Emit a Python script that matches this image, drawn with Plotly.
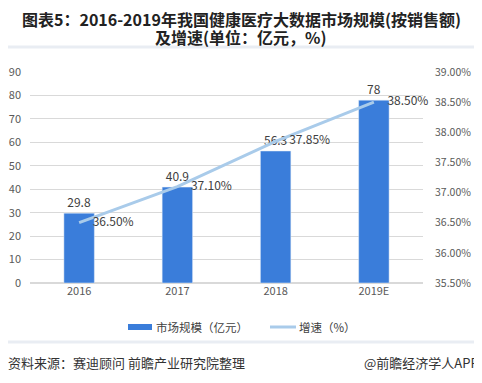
import plotly.graph_objects as go

years = ["2016", "2017", "2018", "2019E"]
market_size = [29.8, 40.9, 56.3, 78]
growth = [36.50, 37.10, 37.85, 38.50]
growth_labels = ["36.50%", "37.10%", "37.85%", "38.50%"]
left_ticks = [0, 10, 20, 30, 40, 50, 60, 70, 80, 90]
right_ticks = [35.5, 36.0, 36.5, 37.0, 37.5, 38.0, 38.5, 39.0]

FONT = "Noto Sans CJK SC, Microsoft YaHei, sans-serif"
OFF = 8  # default page body margin
W, H = 482 - OFF, 383 - OFF
# plot area in page pixels: x 30..423, y 72..283
L = 30 - OFF
R = W - (423 - OFF)
T = 72 - OFF
B = H - (283 - OFF)

BAR_COLOR = "#3A7DDA"
LINE_COLOR = "#A9CBEA"

fig = go.Figure()
fig.add_trace(go.Bar(
    x=years, y=market_size, name="市场规模（亿元）",
    marker=dict(color=BAR_COLOR), width=0.31,
    text=[str(v) for v in market_size], textposition="outside",
    textfont=dict(size=12, color="#404040", family=FONT),
    cliponaxis=False, showlegend=False,
))
fig.add_trace(go.Scatter(
    x=years, y=growth, name="增速（%）", yaxis="y2",
    mode="lines+markers+text", line=dict(color=LINE_COLOR, width=3),
    marker=dict(size=20, color="rgba(0,0,0,0)"),
    text=growth_labels, textposition="middle right",
    textfont=dict(size=12, color="#404040", family=FONT),
    cliponaxis=False, showlegend=False,
))

fig.update_layout(
    width=W, height=H,
    margin=dict(l=L, r=R, t=T, b=B, autoexpand=False),
    paper_bgcolor="white", plot_bgcolor="white",
    font=dict(family=FONT, color="#595959", size=11),
    xaxis=dict(
        type="category", showgrid=False, showline=False, ticks="",
        tickfont=dict(size=11, color="#595959"),
    ),
    yaxis=dict(
        range=[0, 90], tickvals=left_ticks, showgrid=True,
        gridcolor="#D9D9D9", gridwidth=1, zeroline=True, zerolinecolor="#D9D9D9",
        tickfont=dict(size=11, color="#595959"), ticklabelstandoff=8,
    ),
    yaxis2=dict(
        range=[35.5, 39.0], tickvals=right_ticks,
        ticktext=[f"{v:.2f}%" for v in right_ticks],
        overlaying="y", side="right", showgrid=False, zeroline=False,
        tickfont=dict(size=10.5, color="#595959"), ticklabelstandoff=11,
    ),
    showlegend=False,
)

def px_x(x):
    x -= OFF
    return (x - L) / (W - L - R)

def px_y(y):
    y -= OFF
    return (H - B - y) / (H - T - B)

# light frame around chart box
fig.add_shape(type="rect", xref="paper", yref="paper",
              x0=px_x(-2), x1=px_x(477), y0=px_y(342), y1=px_y(47),
              line=dict(color="#E9EDF3", width=3), layer="below")

# title (two lines)
fig.add_annotation(text="<b>图表5：2016-2019年我国健康医疗大数据市场规模(按销售额)</b>",
                   xref="paper", yref="paper", x=px_x(241), y=px_y(19),
                   xanchor="center", yanchor="middle", showarrow=False, borderpad=0,
                   font=dict(size=16, color="#222222", family=FONT))
fig.add_annotation(text="<b>及增速(单位：亿元，%)</b>",
                   xref="paper", yref="paper", x=px_x(241), y=px_y(37),
                   xanchor="center", yanchor="middle", showarrow=False, borderpad=0,
                   font=dict(size=16, color="#222222", family=FONT))

# legend (drawn manually to match wide swatches)
fig.add_shape(type="rect", xref="paper", yref="paper",
              x0=px_x(128), x1=px_x(152), y0=px_y(330), y1=px_y(324),
              line=dict(width=0), fillcolor=BAR_COLOR)
fig.add_annotation(text="市场规模（亿元）", xref="paper", yref="paper",
                   x=px_x(154), y=px_y(327), xanchor="left", yanchor="middle",
                   showarrow=False, font=dict(size=11.5, color="#404040", family=FONT))
fig.add_shape(type="line", xref="paper", yref="paper",
              x0=px_x(270), x1=px_x(296), y0=px_y(327), y1=px_y(327),
              line=dict(width=3, color=LINE_COLOR))
fig.add_annotation(text="增速（%）", xref="paper", yref="paper",
                   x=px_x(297), y=px_y(327), xanchor="left", yanchor="middle",
                   showarrow=False, font=dict(size=11.5, color="#404040", family=FONT))

# footer
fig.add_annotation(text="资料来源：赛迪顾问 前瞻产业研究院整理", xref="paper", yref="paper",
                   x=px_x(6), y=px_y(362), xanchor="left", yanchor="middle",
                   showarrow=False, font=dict(size=13, color="#333333", family=FONT))
fig.add_annotation(text="@前瞻经济学人APP", xref="paper", yref="paper",
                   x=px_x(481), y=px_y(362), xanchor="right", yanchor="middle",
                   showarrow=False, font=dict(size=13, color="#333333", family=FONT))

fig.write_html("out.html")
